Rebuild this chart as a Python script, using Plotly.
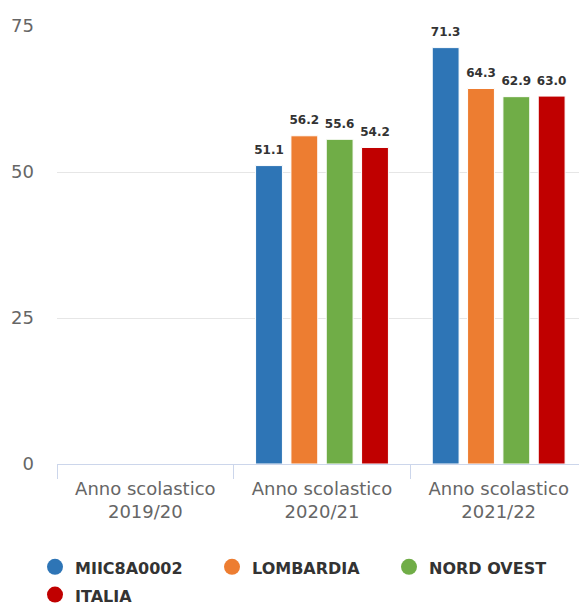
import plotly.graph_objects as go

categories = ["Anno scolastico<br>2019/20", "Anno scolastico<br>2020/21", "Anno scolastico<br>2021/22"]
series_names = ["MIIC8A0002", "LOMBARDIA", "NORD OVEST", "ITALIA"]
miic = [None, 51.1, 71.3]
lombardia = [None, 56.2, 64.3]
nord_ovest = [None, 55.6, 62.9]
italia = [None, 54.2, 63.0]
y_ticks = [0, 25, 50, 75]

series_values = [miic, lombardia, nord_ovest, italia]
colors = ["#2E75B6", "#ED7D31", "#70AD47", "#C00000"]
FONT = "DejaVu Sans"
W, H = 579, 596

fig = go.Figure()
for i, (name, vals, col) in enumerate(zip(series_names, series_values, colors)):
    g = f"s{i}"
    fig.add_trace(go.Bar(
        x=categories, y=vals, name=name, marker=dict(color=col, line=dict(color="white", width=1)),
        offsetgroup=g, alignmentgroup="a", showlegend=False,
    ))
    fig.add_trace(go.Scatter(
        x=categories, y=vals, mode="markers+text", text=[None if v is None else f"{v:.1f}" for v in vals],
        textposition="top center", marker=dict(size=12, opacity=0, color=col),
        textfont=dict(family=FONT, size=12, color="#333333", weight="bold"),
        offsetgroup=g, alignmentgroup="a", showlegend=False, hoverinfo="skip", cliponaxis=False,
    ))
    fig.add_trace(go.Scatter(
        x=[None], y=[None], mode="markers", name=f'<span style="font-size:16px">{name}</span>',
        marker=dict(size=16, color=col, symbol="circle"),
        offsetgroup=g, alignmentgroup="a", showlegend=True,
    ))

fig.update_layout(
    width=W, height=H, autosize=False,
    margin=dict(l=49, r=0, t=18, b=140),
    plot_bgcolor="white", paper_bgcolor="white",
    barmode="group", bargap=0.2, bargroupgap=0.24,
    scattermode="group", scattergap=0.2,
    font=dict(family=FONT, color="#666666"),
    showlegend=True,
    legend=dict(
        orientation="h", xref="container", yref="container",
        x=27 / W, xanchor="left", y=1 - 540 / H, yanchor="top",
        entrywidth=132, entrywidthmode="pixels",
        font=dict(family=FONT, size=19, color="#333333", weight="bold"),
        itemclick=False, itemdoubleclick=False,
    ),
    xaxis=dict(
        type="category", showline=True, linecolor="#ccd6eb", linewidth=1,
        ticks="outside", tickson="boundaries", ticklen=14, tickcolor="#ccd6eb",
        ticklabelstandoff=8,
        showgrid=False, tickfont=dict(family=FONT, size=18, color="#666666"),
        fixedrange=True,
    ),
    yaxis=dict(
        range=[0, 75], tickvals=y_ticks, showgrid=True, gridcolor="#e6e6e6", gridwidth=1,
        zeroline=False, showline=False, ticks="", ticklabelstandoff=22,
        tickfont=dict(family=FONT, size=18, color="#666666"), fixedrange=True,
    ),
)

fig.write_html("out.html")
